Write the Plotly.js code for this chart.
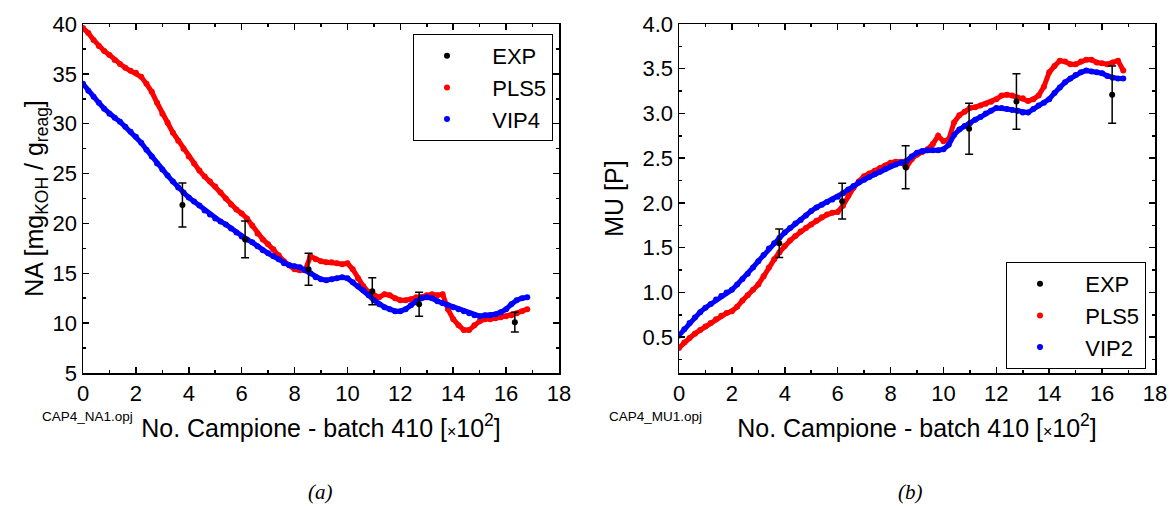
<!DOCTYPE html>
<html>
<head>
<meta charset="utf-8">
<script src="https://cdn.plot.ly/plotly-3.0.1.min.js"></script>
<style>
  html, body { margin: 0; padding: 0; background: #fff; }
  #chart { width: 1171px; height: 506px; }
</style>
</head>
<body>
<div id="chart"></div>
<script>
// ---- Data (x in units of 10^2 samples) ----
const sampleX = [0.0,0.2,0.4,0.6,0.8,1.0,1.2,1.4,1.6,1.8,2.0,2.2,2.4,2.6,2.8,3.0,3.2,3.4,3.6,3.8,
  4.0,4.2,4.4,4.6,4.8,5.0,5.2,5.4,5.6,5.8,6.0,6.2,6.4,6.6,6.8,7.0,7.2,7.4,7.6,7.8,
  8.0,8.2,8.4,8.6,8.8,9.0,9.2,9.4,9.6,9.8,10.0,10.2,10.4,10.6,10.8,11.0,11.2,11.4,11.6,11.8,
  12.0,12.2,12.4,12.6,12.8,13.0,13.2,13.4,13.6,13.8,14.0,14.2,14.4,14.6,14.8,15.0,15.2,15.4,15.6,15.8,
  16.0,16.2,16.4,16.6,16.8];

// (a) NA
const naPLS5 = [39.6,39.1,38.4,37.8,37.3,36.9,36.4,36.0,35.6,35.3,35.1,34.7,34.0,33.2,32.1,31.0,30.1,29.1,28.3,27.5,
  26.7,26.0,25.3,24.7,24.2,23.7,23.1,22.5,21.9,21.4,21.0,20.5,19.8,19.0,18.4,17.9,17.4,16.8,16.2,15.8,
  15.4,15.3,15.3,16.7,16.4,16.2,16.1,16.1,16.0,15.9,16.0,15.4,14.5,13.7,13.1,12.8,12.6,12.9,12.8,12.5,
  12.3,12.3,12.4,12.6,12.6,12.8,12.9,12.8,12.9,11.4,10.4,9.8,9.3,9.3,9.8,10.2,10.4,10.4,10.5,10.6,
  10.7,10.8,11.0,11.2,11.4];
const naVIP4 = [34.0,33.3,32.7,32.1,31.5,31.0,30.6,30.2,29.7,29.2,28.7,28.1,27.4,26.7,26.0,25.4,24.8,24.2,23.6,23.1,
  22.6,22.2,21.8,21.3,20.9,20.5,20.2,19.9,19.5,19.1,18.7,18.4,18.1,17.7,17.3,17.0,16.7,16.4,16.0,15.8,
  15.7,15.6,15.3,15.0,14.6,14.4,14.3,14.4,14.5,14.6,14.5,14.1,13.7,13.3,12.8,12.3,11.9,11.6,11.4,11.2,
  11.2,11.4,11.8,12.2,12.5,12.6,12.5,12.2,12.0,11.8,11.6,11.4,11.2,11.0,10.8,10.7,10.8,10.8,10.9,11.1,
  11.4,11.9,12.3,12.5,12.6];
const naExpX = [3.76, 6.13, 8.53, 10.94, 12.71, 16.33];
const naExpY = [21.85, 18.4, 15.4, 13.2, 11.9, 10.1];
const naExpErr = [2.2, 1.85, 1.6, 1.35, 1.2, 1.0];

// (b) MU
const muPLS5 = [0.38,0.44,0.49,0.54,0.58,0.62,0.66,0.70,0.74,0.77,0.79,0.84,0.91,0.97,1.03,1.09,1.18,1.28,1.37,1.45,
  1.52,1.58,1.63,1.68,1.72,1.76,1.80,1.84,1.87,1.89,1.90,1.97,2.08,2.17,2.24,2.30,2.33,2.36,2.39,2.42,
  2.45,2.46,2.46,2.40,2.49,2.54,2.57,2.60,2.66,2.75,2.69,2.71,2.90,2.98,3.02,3.06,3.07,3.09,3.11,3.13,
  3.16,3.20,3.21,3.20,3.18,3.17,3.14,3.16,3.20,3.30,3.46,3.53,3.59,3.58,3.55,3.55,3.58,3.60,3.60,3.57,
  3.56,3.55,3.57,3.59,3.48];
const muVIP2 = [0.52,0.59,0.66,0.72,0.78,0.83,0.87,0.92,0.96,1.00,1.03,1.09,1.15,1.21,1.28,1.35,1.42,1.49,1.55,1.61,
  1.67,1.72,1.77,1.81,1.86,1.91,1.95,1.98,2.01,2.04,2.07,2.11,2.15,2.19,2.23,2.26,2.29,2.32,2.35,2.38,
  2.41,2.43,2.45,2.47,2.52,2.56,2.58,2.59,2.59,2.59,2.60,2.65,2.76,2.82,2.86,2.89,2.93,2.96,3.00,3.03,
  3.06,3.06,3.05,3.04,3.03,3.01,3.01,3.05,3.09,3.12,3.16,3.23,3.29,3.35,3.39,3.43,3.46,3.48,3.47,3.46,
  3.45,3.42,3.40,3.39,3.39];
const muExpX = [3.79, 6.17, 8.57, 10.97, 12.76, 16.38];
const muExpY = [1.55, 2.02, 2.40, 2.83, 3.135, 3.21];
const muExpErr = [0.16, 0.2, 0.24, 0.285, 0.31, 0.32];

const seriesNames = { exp: 'EXP', pls: 'PLS5', vipA: 'VIP4', vipB: 'VIP2' };

// ---- Styling ----
const FONT = 'Liberation Sans, Arial, Helvetica, sans-serif';
const RED = '#ff0000', BLUE = '#0000ff', BLACK = '#000000';
const PAD = '\u00a0\u00a0';

function bandLine(x, y, color, xa, ya) {
  return { type: 'scatter', mode: 'lines', x: x, y: y, showlegend: false,
    xaxis: xa, yaxis: ya, line: { color: color, width: 5, shape: 'linear' }, hoverinfo: 'skip' };
}
function bandDots(x, y, color, name, xa, ya, leg, rank) {
  return { type: 'scatter', mode: 'markers', x: x, y: y, name: PAD + name,
    xaxis: xa, yaxis: ya, legend: leg, legendrank: rank,
    marker: { color: color, size: 6 } };
}
function exp(x, y, e, xa, ya, leg) {
  return { type: 'scatter', mode: 'markers', x: x, y: y, name: PAD + seriesNames.exp,
    xaxis: xa, yaxis: ya, legend: leg, legendrank: 1,
    marker: { color: BLACK, size: 6 },
    error_y: { type: 'data', array: e, visible: true, color: BLACK, thickness: 1.5, width: 4 } };
}

const traces = [
  bandLine(sampleX, naPLS5, RED, 'x', 'y'),
  bandDots(sampleX, naPLS5, RED, seriesNames.pls, 'x', 'y', 'legend', 2),
  bandLine(sampleX, naVIP4, BLUE, 'x', 'y'),
  bandDots(sampleX, naVIP4, BLUE, seriesNames.vipA, 'x', 'y', 'legend', 3),
  exp(naExpX, naExpY, naExpErr, 'x', 'y', 'legend'),
  bandLine(sampleX, muPLS5, RED, 'x2', 'y2'),
  bandDots(sampleX, muPLS5, RED, seriesNames.pls, 'x2', 'y2', 'legend2', 2),
  bandLine(sampleX, muVIP2, BLUE, 'x2', 'y2'),
  bandDots(sampleX, muVIP2, BLUE, seriesNames.vipB, 'x2', 'y2', 'legend2', 3),
  exp(muExpX, muExpY, muExpErr, 'x2', 'y2', 'legend2')
];

const W = 1171, H = 506;
const px = v => v / W, py = v => 1 - v / H;

function xAxis(domain, anchor) {
  return {
    domain: domain, anchor: anchor, range: [0, 18], dtick: 2, tick0: 0,
    showline: true, linecolor: BLACK, linewidth: 1.5, mirror: 'ticks',
    ticks: 'inside', ticklen: 6, tickwidth: 1.5, tickcolor: BLACK,
    minor: { dtick: 1, ticks: 'inside', ticklen: 3, tickwidth: 1.5, tickcolor: BLACK },
    showgrid: false, zeroline: false,
    tickfont: { family: FONT, size: 22, color: BLACK },
    title: { text: 'No. Campione - batch 410 [<span style="font-size:16px">×</span>10<sup>2</sup>]',
             font: { family: FONT, size: 25, color: BLACK }, standoff: 14 }
  };
}
function yAxis(domain, anchor, range, dtick, minor, title, fmt, standoff) {
  return {
    domain: domain, anchor: anchor, range: range, dtick: dtick, tick0: 0,
    showline: true, linecolor: BLACK, linewidth: 1.5, mirror: 'ticks',
    ticks: 'inside', ticklen: 6, tickwidth: 1.5, tickcolor: BLACK,
    minor: { dtick: minor, ticks: 'inside', ticklen: 3, tickwidth: 1.5, tickcolor: BLACK },
    showgrid: false, zeroline: false, tickformat: fmt,
    tickfont: { family: FONT, size: 22, color: BLACK },
    title: { text: title, font: { family: FONT, size: 25, color: BLACK }, standoff: standoff }
  };
}

const legendStyle = (x, y) => ({
  x: x, y: y, xanchor: 'left', yanchor: 'top', xref: 'paper', yref: 'paper',
  bordercolor: BLACK, borderwidth: 1, bgcolor: '#ffffff', itemwidth: 56,
  font: { family: FONT, size: 22, color: BLACK }, traceorder: 'normal'
});

const layout = {
  width: W, height: H, margin: { l: 0, r: 0, t: 0, b: 0 },
  paper_bgcolor: '#ffffff', plot_bgcolor: '#ffffff',
  showlegend: true,
  xaxis: xAxis([px(83), px(559)], 'y'),
  yaxis: yAxis([py(373), py(24)], 'x', [5, 40], 5, 2.5, 'NA [mg<sub>KOH</sub> / g<sub>reag</sub>]', '', 2),
  xaxis2: xAxis([px(679), px(1155)], 'y2'),
  yaxis2: yAxis([py(373), py(24)], 'x2', [0.1, 4.0], 0.5, 0.25, 'MU [P]', '.1f', 12),
  legend: legendStyle(px(413), py(34)),
  legend2: legendStyle(px(1006), py(262)),
  annotations: [
    { text: 'CAP4_NA1.opj', x: px(40), y: py(416), xref: 'paper', yref: 'paper', xanchor: 'left', yanchor: 'middle',
      showarrow: false, font: { family: FONT, size: 13.5, color: BLACK } },
    { text: 'CAP4_MU1.opj', x: px(607), y: py(416), xref: 'paper', yref: 'paper', xanchor: 'left', yanchor: 'middle',
      showarrow: false, font: { family: FONT, size: 13.5, color: BLACK } },
    { text: '<i>(a)</i>', x: px(320), y: py(492), xref: 'paper', yref: 'paper', xanchor: 'center', yanchor: 'middle',
      showarrow: false, font: { family: 'Liberation Serif, Times New Roman, serif', size: 21, color: BLACK } },
    { text: '<i>(b)</i>', x: px(910), y: py(492), xref: 'paper', yref: 'paper', xanchor: 'center', yanchor: 'middle',
      showarrow: false, font: { family: 'Liberation Serif, Times New Roman, serif', size: 21, color: BLACK } }
  ]
};

Plotly.newPlot('chart', traces, layout, { staticPlot: true, displayModeBar: false });
</script>
</body>
</html>
